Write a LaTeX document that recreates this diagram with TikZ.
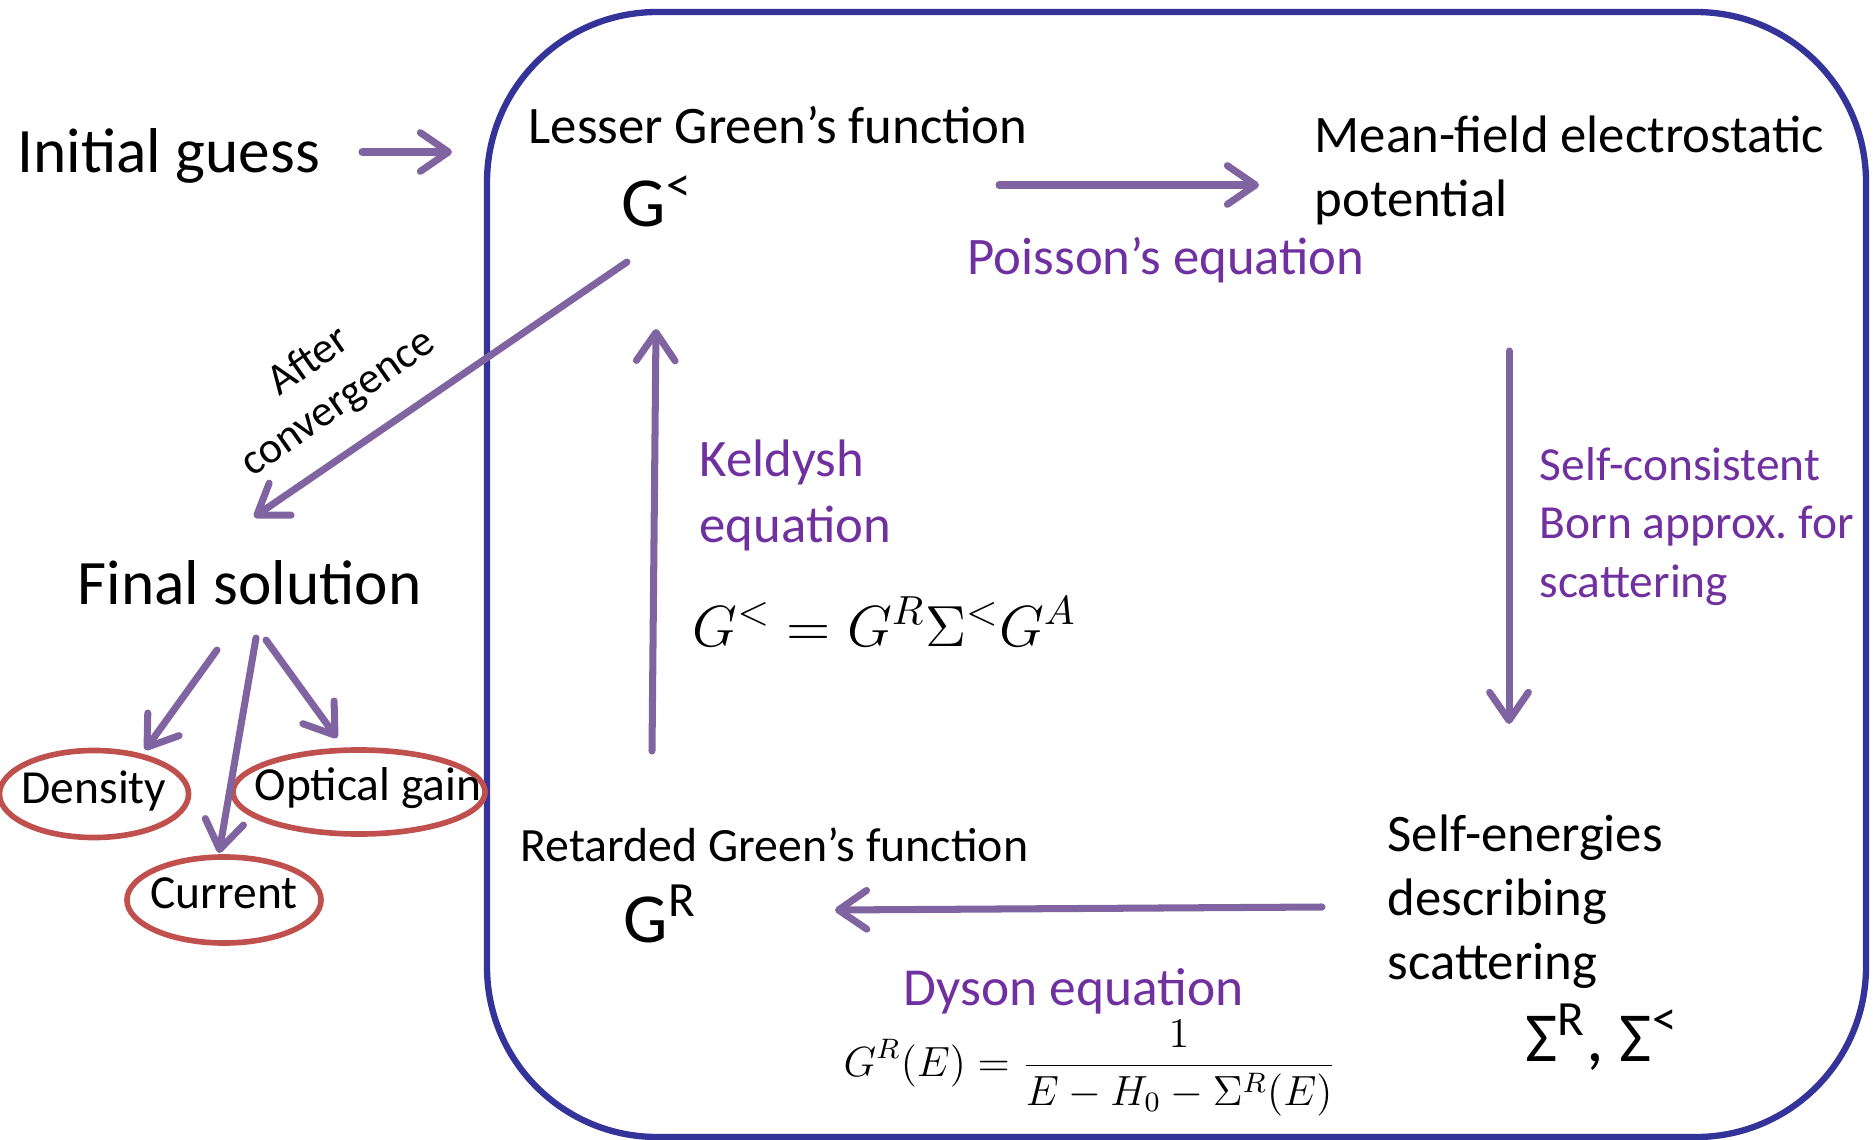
\RequirePackage{fix-cm}
\documentclass[tikz,border=0pt]{standalone}
\usepackage{fontspec}
\setmainfont{Carlito}
\usetikzlibrary{arrows.meta,shapes.geometric}
\definecolor{flowpurple}{RGB}{128,100,162}
\definecolor{eqpurple}{RGB}{112,48,160}
\definecolor{loopblue}{RGB}{51,51,153}
\definecolor{outred}{RGB}{192,80,77}
\frenchspacing

\begin{document}
\begin{tikzpicture}[x=0.01cm, y=-0.01cm,
    flow/.style={line width=2pt, draw=flowpurple, line cap=round,
      -{Straight Barb[length=8pt,width=11pt,round]}},
    bigtext/.style={font=\fontsize{18}{22}\selectfont, inner sep=0pt, anchor=base west},
    boxtext/.style={font=\fontsize{15}{18.2}\selectfont, inner sep=0pt, anchor=base west, align=left},
    eqtext/.style={boxtext, text=eqpurple},
    outtext/.style={font=\fontsize{13.5}{16}\selectfont, inner sep=0pt},
    outcome/.style={ellipse, draw=outred, line width=1.6pt, inner sep=0pt}]
            \useasboundingbox (0,0) rectangle (1876,1140);
            % the iteration loop
            \draw[loopblue, line width=1.8pt, rounded corners=1.7cm] (487,12) rectangle (1866,1137);
            \node[bigtext] (guess) at (17,173) {Initial guess};
            \node[boxtext] (lesser) at (528,144) {Lesser Green’s function};
            \node[bigtext, font=\fontsize{20}{24}\selectfont] (glesser) at (621,227) {G\textsuperscript{<}};
            % multi-line nodes sit on the baseline of their last line
            \node[boxtext] (mean) at (1314,217) {Mean-f{}ield electrostatic\\potential};
            \node[eqtext] (poisson) at (967,275) {Poisson’s equation};
            \node[eqtext, font=\fontsize{13.5}{16.6}\selectfont] (born) at (1539,597) {Self-consistent\\Born approx. for\\scattering};
            \node[boxtext] (selfen) at (1387,979) {Self-energies\\describing\\scattering};
            \node[bigtext, font=\fontsize{20}{24}\selectfont] (sigmas) at (1525,1061) {Σ\textsuperscript{R}, Σ\textsuperscript{<}};
            \node[boxtext, font=\fontsize{13.6}{16}\selectfont] (retarded) at (520,861) {Retarded Green’s function};
            \node[bigtext, font=\fontsize{20}{24}\selectfont] (gret) at (623,942) {G\textsuperscript{R}};
            \node[eqtext, font=\fontsize{15.2}{18}\selectfont] (dyson) at (903,1005) {Dyson equation};
            \node[inner sep=0pt, anchor=west, font=\fontsize{12}{14}\selectfont] (dysoneq) at (843,1068)
                {$\displaystyle G^R(E) = \frac{1}{E - H_0 - \Sigma^R(E)}$};
            \node[eqtext, font=\fontsize{15}{18.5}\selectfont] (keldysh) at (699,542) {Keldysh\\equation};
            \node[inner sep=0pt, anchor=base west, font=\fontsize{16.5}{19}\selectfont] (keldysheq) at (692,646)
                {$G^{<} = G^{R}\Sigma^{<}G^{A}$};
            % outside the loop
            \node[bigtext] (final) at (77,604) {Final solution};
            \node[outtext, rotate=35, align=center, font=\fontsize{12.5}{14.5}\selectfont] (conv) at (324,383) {After\\convergence};
            \node[outcome, minimum width=1.89cm, minimum height=0.87cm,
                label={[outtext, yshift=0.03cm]center:Density}] (density) at (94,794) {};
            \node[outcome, minimum width=2.52cm, minimum height=0.84cm,
                label={[outtext, xshift=0.09cm, yshift=0.04cm]center:Optical gain}] (optical) at (359,792) {};
            \node[outcome, minimum width=1.94cm, minimum height=0.86cm,
                label={[outtext, yshift=0.07cm]center:Current}] (current) at (224,900) {};
            % arrow ends
            \coordinate (guess-out) at (362,152);
            \coordinate (loop-in) at (452,152);
            \coordinate (lesser-out) at (999,185);
            \coordinate (mean-in) at (1259,185);
            \coordinate (mean-out) at (1509,351);
            \coordinate (selfen-in) at (1509,724);
            \coordinate (selfen-out) at (1322,907);
            \coordinate (retarded-in) at (835,910);
            \coordinate (retarded-out) at (652,751);
            \coordinate (lesser-in) at (656,329);
            \coordinate (conv-out) at (627,262);
            \coordinate (final-in) at (254,517);
            \coordinate (final-a) at (217,650);
            \coordinate (final-b) at (256,638);
            \coordinate (final-c) at (266,640);
            \coordinate (density-in) at (145,750);
            \coordinate (current-in) at (219,853);
            \coordinate (optical-in) at (337,738);
            \draw[flow] (guess-out) -- (loop-in);
            \draw[flow] (lesser-out) -- (mean-in);
            \draw[flow] (mean-out) -- (selfen-in);
            \draw[flow] (selfen-out) -- (retarded-in);
            \draw[flow] (retarded-out) -- (lesser-in);
            \draw[flow] (conv-out) -- (final-in);
            \draw[flow] (final-a) -- (density-in);
            \draw[flow] (final-b) -- (current-in);
            \draw[flow] (final-c) -- (optical-in);
\end{tikzpicture}
\end{document}
